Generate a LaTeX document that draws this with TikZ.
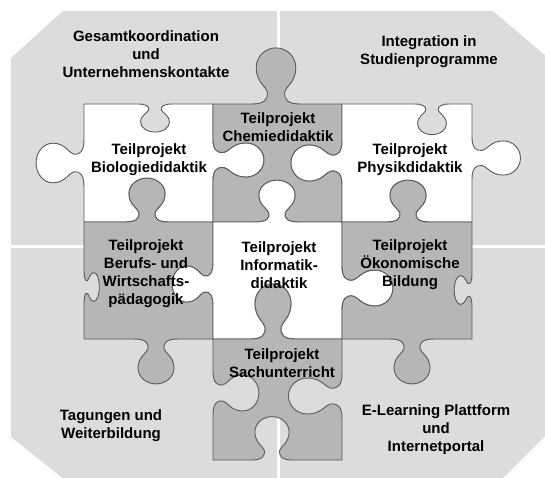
\documentclass[tikz,border=0pt]{standalone}
\usepackage{fontspec}
\setmainfont{Liberation Sans}
\definecolor{bgc}{HTML}{DCDCDC}
\definecolor{pzgray}{HTML}{B6B6B6}
\definecolor{pzline}{HTML}{5A5A5A}
\newcommand\pzloc[2]{%
  \pgfmathsetmacro\pzTx{\pzbx+((#1)*(\pzsa))*(\pzux)+((#2)*(\pzsb))*(\pznx)}%
  \pgfmathsetmacro\pzTy{-1*(\pzby+((#1)*(\pzsa))*(\pzuy)+((#2)*(\pzsb))*(\pzny))}%
}
\newcommand\pzC[6]{%
  \pzloc{#1}{#2}\let\pzAx\pzTx\let\pzAy\pzTy
  \pzloc{#3}{#4}\let\pzBx\pzTx\let\pzBy\pzTy
  \pzloc{#5}{#6}%
  \pgfpathcurveto{\pgfqpoint{\pzAx pt}{\pzAy pt}}{\pgfqpoint{\pzBx pt}{\pzBy pt}}{\pgfqpoint{\pzTx pt}{\pzTy pt}}}
% edge: x0 y0 x1 y1 centre sa sb
\newcommand\pzedge[7]{%
  \pgfmathsetmacro\pzL{veclen((#3)-(#1),(#4)-(#2))}%
  \pgfmathsetmacro\pzux{((#3)-(#1))/\pzL}%
  \pgfmathsetmacro\pzuy{((#4)-(#2))/\pzL}%
  \let\pznx\pzuy
  \pgfmathsetmacro\pzny{-1*(\pzux)}%
  \pgfmathsetmacro\pzbx{(#1)+((#5)-(#1))*abs(\pzux)}%
  \pgfmathsetmacro\pzby{(#2)+((#5)-(#2))*abs(\pzuy)}%
  \def\pzsa{#6}\def\pzsb{#7}%
  \ifdim #7pt=0pt\else
    \pzloc{-22}{0}\pgfpathlineto{\pgfqpoint{\pzTx pt}{\pzTy pt}}%
    \pzC{-11}{0}{-7}{4}{-8}{11}%
    \pzC{-9}{16}{-18}{20}{-18}{33}%
    \pzC{-18}{43}{-10}{51}{0}{51}%
    \pzC{10}{51}{18}{43}{18}{33}%
    \pzC{18}{20}{9}{16}{8}{11}%
    \pzC{7}{4}{11}{0}{22}{0}%
  \fi
  \pgfpathlineto{\pgfqpoint{#3pt}{-#4pt}}%
}
\newcommand\pzpiece[3]{% fill, start x, start y, then edges in #4
  \begin{pgfscope}
  \pgfsetfillcolor{#1}\pgfsetstrokecolor{pzline}\pgfsetlinewidth{0.9pt}\pgfsetroundjoin
  \pgfpathmoveto{\pgfqpoint{#2pt}{-#3pt}}%
  \pzpieceedges
  \pgfpathclose
  \pgfusepath{fill,stroke}
  \end{pgfscope}}
\tikzset{lbl/.style={font=\bfseries\fontsize{15}{18}\selectfont, align=center, inner sep=0pt, text=black}}
\begin{document}
\begin{tikzpicture}[x=1pt,y=-1pt]
\useasboundingbox (0,0) rectangle (545,477);
\fill[white] (0,0) rectangle (545,477);
% background
\fill[bgc] (11,58) -- (63,11) -- (493,11) -- (548,58) -- (548,433) -- (501,480) -- (65,480) -- (11,437) -- cycle;
% dividers
\draw[white, line width=3pt] (278,0) -- (278,480);
\draw[white, line width=3pt] (0,246) -- (548,246);
% Biologie
\def\pzpieceedges{%
  \pzedge{84}{104}{213}{104}{155}{0.8}{-0.55}%
  \pzedge{213}{104}{213}{222}{160}{0.95}{1}%
  \pzedge{213}{222}{84}{222}{147}{1}{-0.86}%
  \pzedge{84}{222}{84}{104}{163}{1.1}{0.94}}
\pzpiece{white}{84}{104}
% Chemie
\def\pzpieceedges{%
  \pzedge{213}{104}{342}{104}{276}{1.1}{1.1}%
  \pzedge{342}{104}{342}{222}{163}{1}{-1}%
  \pzedge{342}{222}{213}{222}{277}{1}{-0.82}%
  \pzedge{213}{222}{213}{104}{160}{0.95}{-1}}
\pzpiece{pzgray}{213}{104}
% Physik
\def\pzpieceedges{%
  \pzedge{342}{104}{472}{104}{432}{0.8}{-0.6}%
  \pzedge{472}{104}{472}{222}{158}{0.95}{0.95}%
  \pzedge{472}{222}{342}{222}{408}{1}{-0.82}%
  \pzedge{342}{222}{342}{104}{163}{1}{1}}
\pzpiece{white}{342}{104}
% Berufs
\def\pzpieceedges{%
  \pzedge{84}{222}{213}{222}{147}{1}{0.86}%
  \pzedge{213}{222}{213}{339}{284}{1}{-0.8}%
  \pzedge{213}{339}{84}{339}{156}{1}{0.88}%
  \pzedge{84}{339}{84}{222}{287}{0.8}{-0.3}}
\pzpiece{pzgray}{84}{222}
% Informatik
\def\pzpieceedges{%
  \pzedge{213}{222}{342}{222}{277}{1}{0.82}%
  \pzedge{342}{222}{342}{339}{288}{1}{1}%
  \pzedge{342}{339}{213}{339}{273}{1}{-1.08}%
  \pzedge{213}{339}{213}{222}{284}{1}{0.8}}
\pzpiece{white}{213}{222}
% Oekonomische
\def\pzpieceedges{%
  \pzedge{342}{222}{472}{222}{408}{1}{0.82}%
  \pzedge{472}{222}{472}{339}{290}{0.8}{-0.35}%
  \pzedge{472}{339}{342}{339}{412}{1}{0.88}%
  \pzedge{342}{339}{342}{222}{288}{1}{-1}}
\pzpiece{pzgray}{342}{222}
% Sachunterricht
\def\pzpieceedges{%
  \pzedge{213}{339}{342}{339}{273}{1}{1.08}%
  \pzedge{342}{339}{342}{460}{396}{1}{-1.05}%
  \pzedge{342}{460}{213}{460}{272}{0.95}{-0.85}%
  \pzedge{213}{460}{213}{339}{393}{1}{-0.9}}
\pzpiece{pzgray}{213}{339}
% labels
\node[lbl] (gesamt) at (146,54) {Gesamtkoordination\\und\\Unternehmenskontakte};
\node[lbl] (integ) at (429,52) {Integration in\\Studienprogramme};
\node[lbl] (chemie) at (278,127) {Teilprojekt\\Chemiedidaktik};
\node[lbl] (bio) at (149,160) {Teilprojekt\\Biologiedidaktik};
\node[lbl] (physik) at (410,160) {Teilprojekt\\Physikdidaktik};
\node[lbl] (berufs) at (146,274) {Teilprojekt\\Berufs- und\\Wirtschafts-\\pädagogik};
\node[lbl] (info) at (279,265) {Teilprojekt\\Informatik-\\didaktik};
\node[lbl] (oeko) at (410,265) {Teilprojekt\\Ökonomische\\Bildung};
\node[lbl] (sach) at (282,363) {Teilprojekt\\Sachunterricht};
\node[lbl] (tag) at (111,426) {Tagungen und\\Weiterbildung};
\node[lbl] (elearn) at (436,430) {E-Learning Plattform\\und\\Internetportal};
\end{tikzpicture}
\end{document}
